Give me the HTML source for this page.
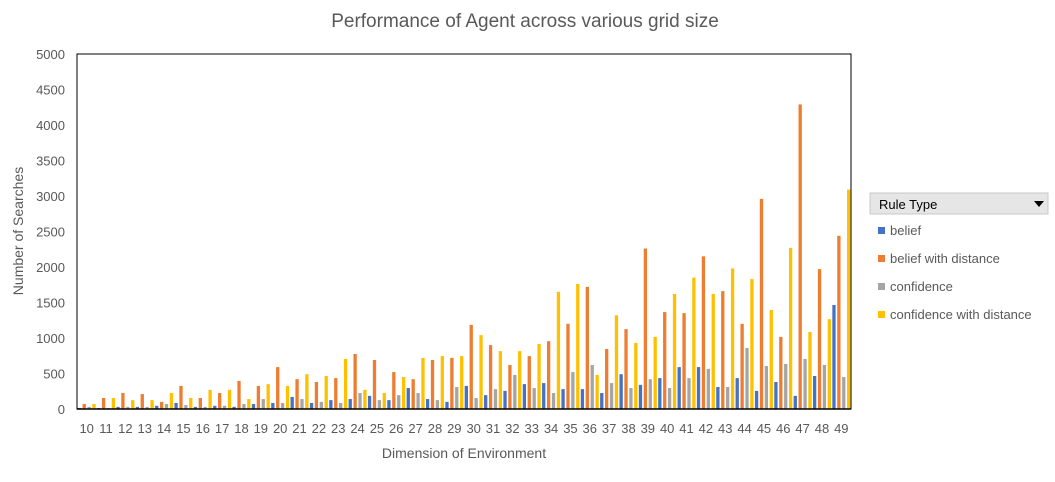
<!DOCTYPE html>
<html><head><meta charset="utf-8"><style>
body{margin:0;background:#fff;font-family:"Liberation Sans",sans-serif;}
svg text{font-family:"Liberation Sans",sans-serif;}
</style></head><body>
<svg id="c" width="1055" height="477">
<rect width="1055" height="477" fill="#fff"/>
<text x="525" y="27" text-anchor="middle" font-size="19" fill="#595959">Performance of Agent across various grid size</text>
<text transform="translate(23,231) rotate(-90)" text-anchor="middle" font-size="14" fill="#595959">Number of Searches</text>
<text x="464" y="458" text-anchor="middle" font-size="14" fill="#595959">Dimension of Environment</text>
<g id="plot"></g>
<g>
<rect x="870" y="193" width="178" height="21" fill="#e6e6e6" stroke="#c8c8c8"/>
<text x="879" y="209" font-size="13" fill="#000">Rule Type</text>
<path d="M1034 201 L1044 201 L1039 207 Z" fill="#000"/>
</g>
</svg>
<script>
const categories=[10,11,12,13,14,15,16,17,18,19,20,21,22,23,24,25,26,27,28,29,30,31,32,33,34,35,36,37,38,39,40,41,42,43,44,45,46,47,48,49];
const beliefVals=[15,15,30,30,45,85,30,45,30,70,85,170,85,125,140,185,125,295,140,100,325,195,255,350,365,280,280,225,490,340,435,590,590,310,435,255,380,185,465,1465];
const beliefDistVals=[70,155,225,210,100,325,155,225,395,325,590,420,380,435,775,690,520,420,690,720,1185,900,620,745,955,1200,1720,845,1125,2260,1365,1350,2150,1660,1200,2960,1015,4290,1970,2440];
const confVals=[30,15,30,30,70,55,30,45,70,140,85,140,100,85,225,125,195,225,125,310,155,280,480,295,225,520,620,365,295,420,295,435,565,310,860,605,635,705,620,450];
const confDistVals=[70,155,125,125,225,155,270,270,140,350,325,490,465,705,270,225,450,720,745,745,1040,815,815,915,1650,1760,480,1320,930,1015,1620,1850,1620,1980,1830,1395,2270,1085,1265,3090];
const yTicks=[0,500,1000,1500,2000,2500,3000,3500,4000,4500,5000];
const seriesNames=["belief","belief with distance","confidence","confidence with distance"];
const seriesKeys=["belief","belief-with-distance","confidence","confidence-with-distance"];
const colors=["#4472c4","#ed7d31","#a5a5a5","#ffc000"];
const series=[beliefVals,beliefDistVals,confVals,confDistVals];
const NS="http://www.w3.org/2000/svg";
const X0=77,X1=851,Y0=409,Y1=54,YMAX=5000;
const g=document.getElementById('plot');
function yS(v){return Y0-(v/YMAX)*(Y0-Y1);}
const band=(X1-X0)/categories.length;
function xS(i){return X0+i*band;}
function mk(t,a){const e=document.createElementNS(NS,t);for(const k in a)e.setAttribute(k,a[k]);return e;}
yTicks.forEach(t=>{
 const e=mk('text',{x:65,y:yS(t)+5,'text-anchor':'end','font-size':13,fill:'#595959'});
 e.textContent=t;
 
 
 g.appendChild(e);
});
const frame=mk('rect',{x:X0,y:Y1,width:X1-X0,height:Y0-Y1,fill:'none',stroke:'#000','stroke-width':1});


g.appendChild(frame);
const bw=3.3,step=4.9,pad=(band-(3*step+bw))/2;
categories.forEach((c,i)=>{
 series.forEach((s,j)=>{
  const y=yS(s[i]);
  const r=mk('rect',{x:xS(i)+pad+j*step,y:y,width:bw,height:Y0-y,fill:colors[j]});
  
  
  g.appendChild(r);
 });
 const t=mk('text',{x:xS(i)+band/2,y:433,'text-anchor':'middle','font-size':13,fill:'#595959'});
 t.textContent=c;
 
 
 g.appendChild(t);
});
const axis=mk('line',{x1:X0,y1:Y0,x2:X1,y2:Y0,stroke:'#000','stroke-width':1.5});


g.appendChild(axis);
const svg=document.getElementById('c');
seriesNames.forEach((n,j)=>{
 const y=231+j*28;
 const sq=mk('rect',{x:878,y:y-4,width:7,height:7,fill:colors[j]});
 
 
 svg.appendChild(sq);
 const t=mk('text',{x:890,y:y+4,'font-size':13,fill:'#595959'});
 t.textContent=n;
 
 
 svg.appendChild(t);
});
</script>
</body></html>
